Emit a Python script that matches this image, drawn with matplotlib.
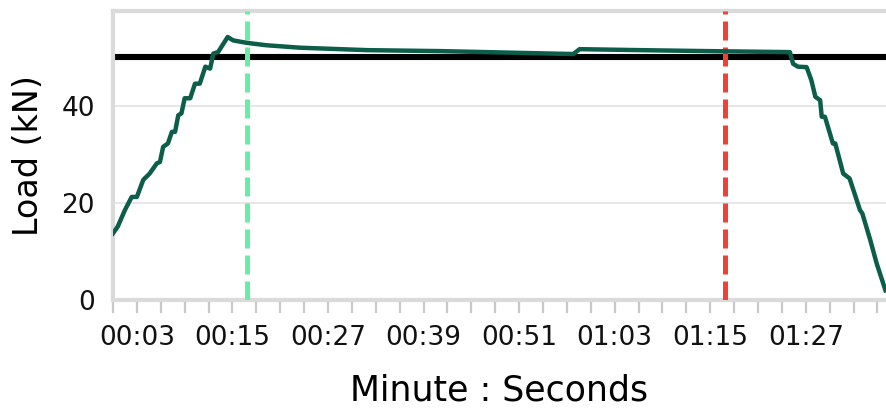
import matplotlib
matplotlib.use("Agg")
import matplotlib.pyplot as plt
from matplotlib.ticker import MultipleLocator, FuncFormatter

# time (s) and load (kN)
time_s = [
    0.0, 0.6, 1.5, 2.35, 3.0, 3.8, 4.6, 5.5, 5.9, 6.3, 6.9, 7.4, 7.8,
    8.2, 8.6, 9.0, 9.7, 10.3, 10.9, 11.6, 12.2, 12.6, 13.2, 13.9, 14.4,
    15.1, 16.8, 19.3, 23.5, 31.9, 41.1, 49.4, 57.8, 58.6, 66.2, 74.6,
    84.6, 85.0, 85.4, 86.0, 87.1, 87.7, 88.2, 88.8, 89.0, 89.4, 90.4,
    90.7, 91.7, 92.5, 93.8, 94.1, 95.1, 95.9, 97.0,
]
load_kn = [
    13.7, 15.1, 18.5, 21.2, 21.2, 24.7, 26.0, 28.1, 28.4, 31.5, 32.2,
    34.6, 34.6, 38.0, 38.4, 41.5, 41.5, 44.5, 44.5, 48.0, 47.6, 50.7,
    51.0, 52.8, 54.1, 53.4, 52.9, 52.4, 51.9, 51.4, 51.2, 50.9, 50.6,
    51.6, 51.4, 51.2, 51.0, 51.0, 48.6, 48.0, 47.9, 45.2, 41.8, 41.1,
    37.7, 37.7, 32.2, 32.2, 26.0, 25.0, 18.5, 17.8, 12.3, 7.5, 2.0,
]
target_load = 50
start_mark = 16.8
end_mark = 76.8

plt.rcParams["font.family"] = ["DejaVu Sans"]

fig = plt.figure(figsize=(8.86, 4.09), dpi=100)
ax = fig.add_axes([0.1275, 0.2665, 0.8725, 0.706])

ax.axhline(target_load, color="black", lw=4.4, zorder=2)
ax.axvline(start_mark, color="#66eda8", lw=3.6, dashes=(3.8, 1.4), zorder=3)
ax.axvline(end_mark, color="#ef4136", lw=3.6, dashes=(3.8, 1.4), zorder=3)
ax.plot(time_s, load_kn, color="#0c5e4b", lw=3.2, zorder=4,
        solid_joinstyle="round")

ax.set_xlim(0, 97.07)
ax.set_ylim(0, 59.4)

ax.yaxis.set_major_locator(MultipleLocator(20))
ax.xaxis.set_major_locator(MultipleLocator(12, offset=3))
ax.xaxis.set_minor_locator(MultipleLocator(3))
ax.xaxis.set_major_formatter(
    FuncFormatter(lambda v, p: f"{int(round(v)) // 60:02d}:{int(round(v)) % 60:02d}"))

ax.grid(axis="y", color="#e2e2e2", lw=1.2)
ax.set_axisbelow(True)

for side in ("left", "top", "bottom"):
    ax.spines[side].set_color("#dadada")
    ax.spines[side].set_linewidth(3)
ax.spines["right"].set_visible(False)

ax.tick_params(axis="x", which="both", length=9, width=1.6, color="#c8c8c8",
               labelsize=19, pad=9, labelcolor="#111111")
ax.tick_params(axis="y", length=0, labelsize=19, pad=13, labelcolor="#111111")

ax.set_xlabel("Minute : Seconds", fontsize=25, labelpad=16)
ax.set_ylabel("Load (kN)", fontsize=24, labelpad=12)

fig.savefig("out.png", dpi=100)
